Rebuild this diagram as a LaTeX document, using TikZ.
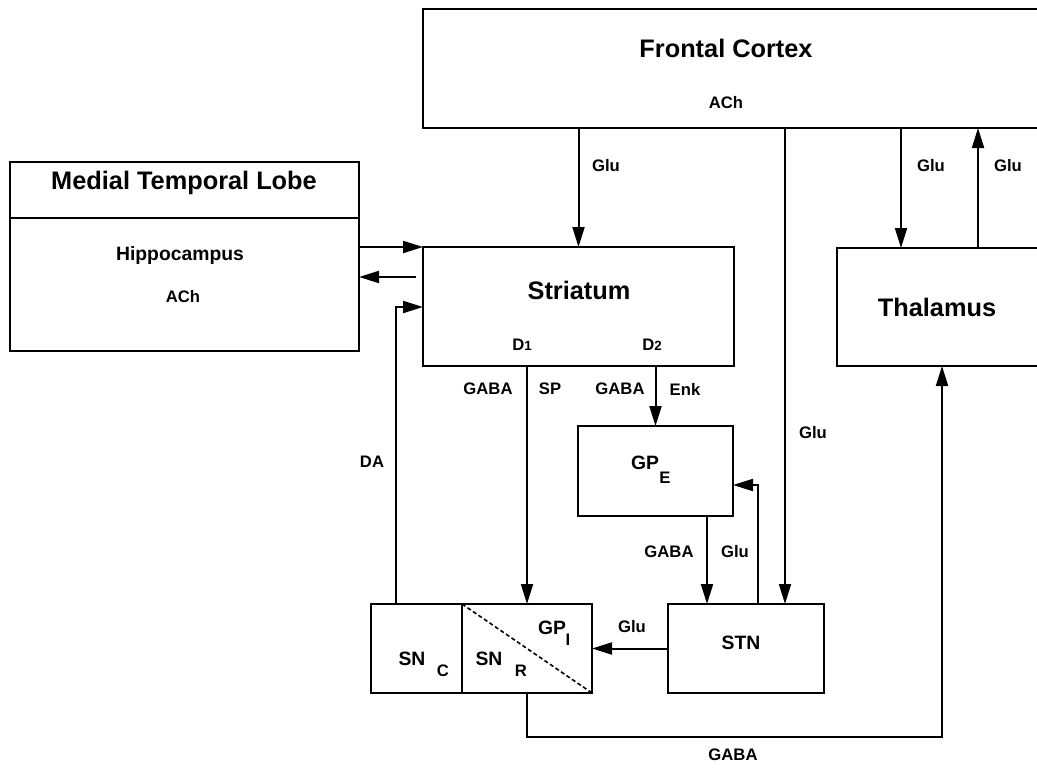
\documentclass[tikz,border=0pt]{standalone}
\usepackage{fontspec}
\setmainfont{Liberation Sans}
\usetikzlibrary{arrows.meta}
\tikzset{
  box/.style={draw,line width=1.5pt,inner sep=0pt,outer sep=0pt,anchor=north west},
  ln/.style={line width=1.5pt},
  arr/.style={line width=1.5pt,-{Triangle[length=15pt,width=9pt]}},
  ttl/.style={font=\fontsize{19}{22}\bfseries\selectfont},
  mid/.style={font=\fontsize{14.5}{17}\bfseries\selectfont},
  lbl/.style={font=\fontsize{12.5}{14}\bfseries\selectfont},
}
\begin{document}
\begin{tikzpicture}[x=0.75pt,y=-0.75pt]
\useasboundingbox (0,0) rectangle (1037,767);
\clip (0,0) rectangle (1037,767);
% boxes
\node[box,minimum width=640*0.75pt,minimum height=119*0.75pt] (fc) at (423,9) {};
\node[box,minimum width=349*0.75pt,minimum height=189*0.75pt] (mtl) at (10,162) {};
\node[box,minimum width=311*0.75pt,minimum height=119*0.75pt] (str) at (423,247) {};
\node[box,minimum width=210*0.75pt,minimum height=118*0.75pt] (thal) at (837,248) {};
\node[box,minimum width=155*0.75pt,minimum height=90*0.75pt] (gpe) at (578,426) {};
\node[box,minimum width=156*0.75pt,minimum height=89*0.75pt] (stn) at (668,604) {};
\node[box,minimum width=91*0.75pt,minimum height=89*0.75pt] (snc) at (371,604) {};
\node[box,minimum width=130*0.75pt,minimum height=89*0.75pt] (snr) at (462,604) {};
\coordinate (mtlsplit) at (0,218);
\draw[ln] (mtl.west |- mtlsplit) -- (mtl.east |- mtlsplit);
\draw[line width=1.2pt,densely dashed] (snr.north west) -- (snr.south east);
% box texts
\node[ttl] (fctitle) at (726,48) {Frontal Cortex};
\node[lbl] (fcach) at (726,103) {ACh};
\node[ttl] (mtltitle) at (184,183) {Medial Temporal Lobe};
\node[mid] (hippo) at (180,255) {Hippocampus};
\node[lbl] (hippoach) at (183,297) {ACh};
\node[ttl] (strtitle) at (579,290) {Striatum};
\node[lbl] (done) at (522,345) {D{\fontsize{10}{10}\selectfont 1}};
\node[lbl] (dtwo) at (652,345) {D{\fontsize{10}{10}\selectfont 2}};
\node[ttl] (thaltitle) at (937,307) {Thalamus};
\node[mid] (gpetxt) at (645,463) {GP};
\node[lbl] (gpesub) at (665,478) {E};
\node[mid] (stntxt) at (741,643) {STN};
\node[mid] (snctxt) at (412,659) {SN};
\node[lbl] (sncsub) at (443,671) {C};
\node[mid] (snrtxt) at (489,659) {SN};
\node[lbl] (snrsub) at (521,671) {R};
\node[mid] (gpitxt) at (552,628) {GP};
\node[lbl] (gpisub) at (568,640) {I};
% connectors
\coordinate (fcstn) at (785,0);
\coordinate (fcthal) at (901,0);
\coordinate (thalfc) at (978,0);
\coordinate (back) at (416,277);
\coordinate (dax) at (396,307);
\coordinate (gpestn) at (707,0);
\coordinate (stngpe) at (758,485);
\coordinate (gabay) at (0,737);
\draw[arr] (fc.south -| str.north) -- (str.north);
\draw[arr] (fc.south -| fcstn) -- (stn.north -| fcstn);
\draw[arr] (fc.south -| fcthal) -- (thal.north -| fcthal);
\draw[arr] (thal.north -| thalfc) -- (fc.south -| thalfc);
\draw[arr] (mtl.east |- str.north west) -- (str.north west);
\draw[arr] (back) -- (mtl.east |- back);
\draw[arr] (snc.north -| dax) -- (dax) -- (str.west |- dax);
\draw[arr] (str.south -| snr.north) -- (snr.north);
\draw[arr] (str.south -| gpe.north) -- (gpe.north);
\draw[arr] (gpe.south -| gpestn) -- (stn.north -| gpestn);
\draw[arr] (stn.north -| stngpe) -- (stngpe) -- (gpe.east |- stngpe);
\draw[arr] (stn.west) -- (snr.east);
\draw[arr] (snr.south) -- (snr.south |- gabay) -- (thal.south |- gabay) -- (thal.south);
% connector labels
\node[lbl] (gluone) at (606,166) {Glu};
\node[lbl] (glutwo) at (931,166) {Glu};
\node[lbl] (gluthree) at (1008,166) {Glu};
\node[lbl] (glufour) at (813,433) {Glu};
\node[lbl] (daname) at (372,462) {DA};
\node[lbl] (gabaone) at (488,389) {GABA};
\node[lbl] (spname) at (550,389) {SP};
\node[lbl] (gabatwo) at (620,389) {GABA};
\node[lbl] (enkname) at (685,389) {Enk};
\node[lbl] (gabathree) at (669,552) {GABA};
\node[lbl] (glufive) at (735,552) {Glu};
\node[lbl] (glusix) at (632,627) {Glu};
\node[lbl] (gabafour) at (733,755) {GABA};
\end{tikzpicture}
\end{document}
